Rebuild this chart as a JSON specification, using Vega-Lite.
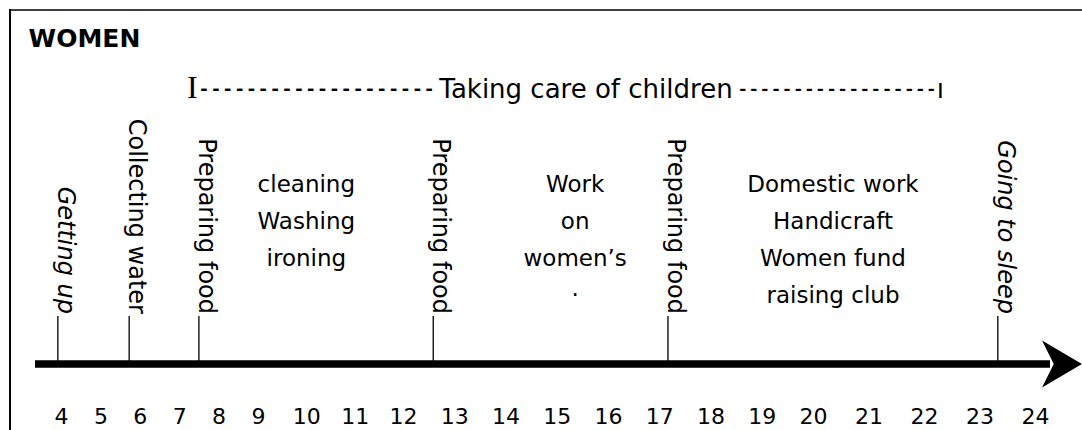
{
  "$schema": "https://vega.github.io/schema/vega-lite/v6.json",
  "width": 1069,
  "height": 420,
  "autosize": {"type": "none"},
  "padding": {"left": 10, "top": 10, "right": 3, "bottom": 0},
  "background": "white",
  "title": {"text": "WOMEN", "anchor": "start", "font": "DejaVu Sans", "fontWeight": "bold", "fontSize": 25, "color": "black", "baseline": "alphabetic", "offset": 0, "dx": 20, "dy": 63},
  "config": {"view": {"stroke": null}},
  "datasets": {
    "events": [
      {"hour": 3.92, "activity": "Getting up", "kind": "day boundary"},
      {"hour": 5.73, "activity": "Collecting water", "kind": "task"},
      {"hour": 7.5, "activity": "Preparing food", "kind": "task"},
      {"hour": 12.59, "activity": "Preparing food", "kind": "task"},
      {"hour": 17.17, "activity": "Preparing food", "kind": "task"},
      {"hour": 23.33, "activity": "Going to sleep", "kind": "day boundary"}
    ],
    "blocks": [
      {"hour": 10.0, "activity": "cleaning\nWashing\nironing"},
      {"hour": 15.36, "activity": "Work\non\nwomen’s\n·"},
      {"hour": 20.36, "activity": "Domestic work\nHandicraft\nWomen fund\nraising club"}
    ],
    "care": [
      {"start": 7.2, "end": 22.36, "activity": "Taking care of children"}
    ],
    "axisline": [{}]
  },
  "layer": [
    {
      "data": {"name": "axisline"},
      "mark": {"type": "rule", "color": "black", "strokeWidth": 7.5, "strokeCap": "butt"},
      "encoding": {
        "x": {"datum": 3.34, "type": "quantitative",
              "scale": {"type": "linear", "domain": [4, 9, 12, 20, 24], "range": [51, 248, 393, 803, 1025], "nice": false, "zero": false, "clamp": false},
              "axis": {"values": [4,5,6,7,8,9,10,11,12,13,14,15,16,17,18,19,20,21,22,23,24], "orient": "bottom", "offset": -7, "domain": false, "ticks": false, "tickSize": 0, "grid": false, "labelPadding": 0, "labelBaseline": "alphabetic", "labelFont": "DejaVu Sans", "labelFontSize": 22, "labelColor": "black", "labelFlush": false, "labelOverlap": false, "title": null}},
        "x2": {"datum": 24.27},
        "y": {"datum": 66, "type": "quantitative", "scale": {"domain": [0, 420], "nice": false, "zero": false}, "axis": null}
      }
    },
    {
      "data": {"name": "axisline"},
      "mark": {"type": "rule", "color": "black", "strokeWidth": 2, "strokeCap": "square"},
      "encoding": {
        "x": {"datum": 2.706, "type": "quantitative"},
        "y": {"datum": 0, "type": "quantitative"},
        "y2": {"datum": 420}
      }
    },
    {
      "data": {"name": "axisline"},
      "mark": {"type": "rule", "color": "black", "strokeWidth": 1.5, "strokeCap": "square"},
      "encoding": {
        "x": {"datum": 2.706, "type": "quantitative"},
        "x2": {"datum": 24.97},
        "y": {"datum": 420, "type": "quantitative"}
      }
    },
    {
      "data": {"name": "axisline"},
      "mark": {"type": "rule", "color": "black", "strokeWidth": 1.5, "strokeCap": "square"},
      "encoding": {
        "x": {"datum": 24.97, "type": "quantitative"},
        "y": {"datum": 90, "type": "quantitative"},
        "y2": {"datum": 420}
      }
    },
    {
      "data": {"name": "axisline"},
      "mark": {"type": "point", "shape": "M -1 -1 L 0.7 0 L -1 1 L -0.5 0 Z", "filled": true, "color": "black", "opacity": 1, "size": 2209, "strokeWidth": 0},
      "encoding": {
        "x": {"datum": 24.55, "type": "quantitative"},
        "y": {"datum": 66, "type": "quantitative"}
      }
    },
    {
      "data": {"name": "events"},
      "mark": {"type": "rule", "color": "black", "strokeWidth": 1.3},
      "encoding": {
        "x": {"field": "hour", "type": "quantitative"},
        "y": {"datum": 66, "type": "quantitative"},
        "y2": {"datum": 114}
      }
    },
    {
      "data": {"name": "events"},
      "transform": [{"filter": "datum.kind === 'task'"}],
      "mark": {"type": "text", "angle": 90, "align": "right", "baseline": "alphabetic", "font": "DejaVu Sans", "fontSize": 24, "color": "black"},
      "encoding": {
        "x": {"field": "hour", "type": "quantitative"},
        "y": {"datum": 116, "type": "quantitative"},
        "text": {"field": "activity"}
      }
    },
    {
      "data": {"name": "events"},
      "transform": [{"filter": "datum.kind === 'day boundary'"}],
      "mark": {"type": "text", "angle": 90, "align": "right", "baseline": "alphabetic", "font": "DejaVu Sans", "fontStyle": "italic", "fontSize": 24, "color": "black"},
      "encoding": {
        "x": {"field": "hour", "type": "quantitative"},
        "y": {"datum": 116, "type": "quantitative"},
        "text": {"field": "activity"}
      }
    },
    {
      "data": {"name": "blocks"},
      "mark": {"type": "text", "align": "center", "baseline": "alphabetic", "font": "DejaVu Sans", "fontSize": 23, "lineBreak": "\n", "lineHeight": 37, "color": "black"},
      "encoding": {
        "x": {"field": "hour", "type": "quantitative"},
        "y": {"datum": 238, "type": "quantitative"},
        "text": {"field": "activity"}
      }
    },
    {
      "data": {"name": "care"},
      "mark": {"type": "text", "align": "left", "baseline": "alphabetic", "font": "Liberation Serif", "fontSize": 32, "color": "black"},
      "encoding": {
        "x": {"field": "start", "type": "quantitative"},
        "y": {"datum": 332, "type": "quantitative"},
        "text": {"value": "I"}
      }
    },
    {
      "data": {"name": "care"},
      "mark": {"type": "text", "align": "left", "baseline": "alphabetic", "font": "Liberation Mono", "fontWeight": "bold", "fontSize": 19.75, "dx": 11, "color": "black"},
      "encoding": {
        "x": {"field": "start", "type": "quantitative"},
        "y": {"datum": 335, "type": "quantitative"},
        "text": {"value": "--------------------"}
      }
    },
    {
      "data": {"name": "care"},
      "mark": {"type": "text", "align": "center", "baseline": "alphabetic", "font": "DejaVu Sans", "fontSize": 26, "color": "black"},
      "encoding": {
        "x": {"datum": 15.57, "type": "quantitative"},
        "y": {"datum": 332, "type": "quantitative"},
        "text": {"field": "activity"}
      }
    },
    {
      "data": {"name": "care"},
      "mark": {"type": "text", "align": "right", "baseline": "alphabetic", "font": "Liberation Mono", "fontWeight": "bold", "fontSize": 18.5, "dx": -7, "color": "black"},
      "encoding": {
        "x": {"field": "end", "type": "quantitative"},
        "y": {"datum": 335, "type": "quantitative"},
        "text": {"value": "------------------"}
      }
    },
    {
      "data": {"name": "care"},
      "mark": {"type": "text", "align": "right", "baseline": "alphabetic", "font": "DejaVu Sans", "fontSize": 26, "color": "black"},
      "encoding": {
        "x": {"field": "end", "type": "quantitative"},
        "y": {"datum": 332, "type": "quantitative"},
        "text": {"value": "ı"}
      }
    }
  ]
}
